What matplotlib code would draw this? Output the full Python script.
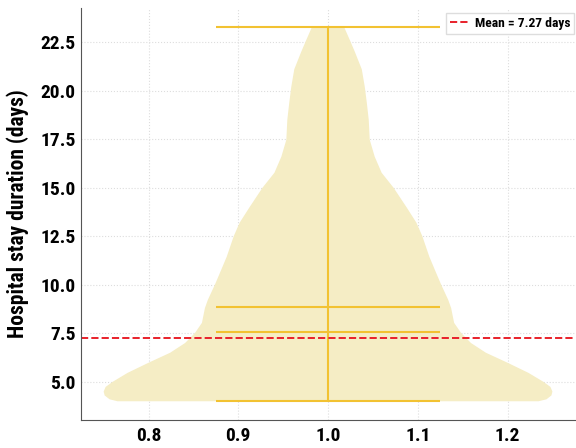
import matplotlib
matplotlib.use("Agg")
import matplotlib.pyplot as plt
from matplotlib import font_manager
import numpy as np

# violin profile (days, relative density)
stay_days = [4.0, 4.1, 4.3, 4.5, 4.74, 5.0, 5.46, 5.98, 6.5, 7.0, 7.52, 8.04,
             8.8, 9.23, 10.0, 10.6, 11.45, 12.5, 13.2, 14.0, 15.0, 15.77,
             16.6, 17.47, 18.5, 19.4, 20.2, 21.1, 22.0, 22.6, 23.3]
density = [212, 220, 225, 226, 224, 217, 202, 181, 159, 144, 134, 127,
           124, 121, 114, 109, 102, 95, 89, 79, 66, 54,
           47, 42, 41, 39, 37, 34, 27, 22, 16]
stay_min = 4.0
stay_max = 23.3
stay_median = 7.55
stay_center = 8.85
overall_mean = 7.27

# pick a narrow/condensed face that has a bold weight, if one is installed
def _is_bold(w):
    if isinstance(w, str):
        return w in ('bold', 'heavy', 'extra bold', 'black', 'semibold', 'demibold')
    return w >= 600

fonts = font_manager.fontManager.ttflist
narrow_bold = sorted({f.name for f in fonts
                      if ('Narrow' in f.name or 'Condensed' in f.name) and _is_bold(f.weight)})
preferred = ['Roboto Condensed', 'Liberation Sans Narrow', 'Arial Narrow',
             'Noto Sans Condensed', 'DejaVu Sans Condensed']
chosen = [p for p in preferred if p in narrow_bold] + narrow_bold
if chosen:
    plt.rcParams['font.family'] = [chosen[0], 'DejaVu Sans']
else:
    plt.rcParams['font.family'] = ['DejaVu Sans']
    plt.rcParams['font.stretch'] = 'condensed'
plt.rcParams['font.weight'] = 'bold'

body_color = '#F5EDC5'
line_color = '#F2C232'

fig = plt.figure(figsize=(5.76, 4.48), dpi=100)
ax = fig.add_axes([0.141, 0.0625, 0.857, 0.92])

vpstats = [{
    'coords': np.array(stay_days),
    'vals': np.array(density, dtype=float),
    'mean': stay_center,
    'median': stay_median,
    'min': stay_min,
    'max': stay_max,
}]
parts = ax.violin(vpstats, positions=[1], widths=0.5,
                  showmeans=True, showextrema=True, showmedians=True)
for body in parts['bodies']:
    body.set_facecolor(body_color)
    body.set_edgecolor('none')
    body.set_alpha(1.0)
for key in ['cmeans', 'cmins', 'cmaxes', 'cbars', 'cmedians']:
    parts[key].set_color(line_color)
    parts[key].set_linewidth(1.5)

ax.axhline(overall_mean, color='#E8202A', linestyle='--', linewidth=1.4,
           label=f'Mean = {overall_mean:.2f} days')

ax.set_ylabel('Hospital stay duration (days)', fontsize=15.5, fontweight='bold',
              labelpad=8)
ax.tick_params(axis='both', labelsize=14, length=0)
ax.tick_params(axis='y', pad=4)
ax.tick_params(axis='x', pad=5)
for lab in ax.get_xticklabels() + ax.get_yticklabels():
    lab.set_fontweight('bold')
ax.grid(True, color='#DDDDDD', linestyle=':', linewidth=0.8)
ax.set_axisbelow(True)
for side in ['top', 'right']:
    ax.spines[side].set_visible(False)
for side in ['left', 'bottom']:
    ax.spines[side].set_color('#555555')

leg = ax.legend(loc='upper right', bbox_to_anchor=(1.0, 0.99),
                fontsize=9.7, handlelength=1.4,
                handletextpad=0.4, borderpad=0.3,
                fancybox=False, framealpha=1, edgecolor='#DDDDDD',
                borderaxespad=0.05)

plt.savefig('out.png', dpi=100)
